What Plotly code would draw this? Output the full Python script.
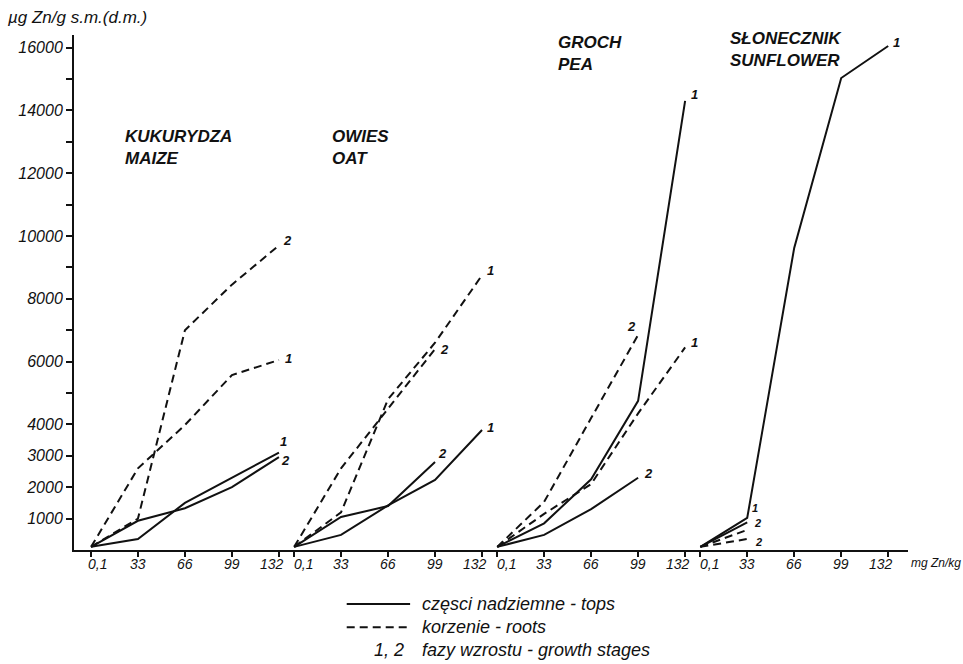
import plotly.graph_objects as go

# ---------------- data ----------------
doses = [0.1, 33, 66, 99, 132]
dose_labels = ["0,1", "33", "66", "99", "132"]
panels = ["KUKURYDZA<br>MAIZE", "OWIES<br>OAT", "GROCH<br>PEA", "SŁONECZNIK<br>SUNFLOWER"]

# µg Zn / g d.m. ; tops (solid) and roots (dashed), growth stages 1 and 2
maize_tops_1 = [100, 350, 1500, 2300, 3100]
maize_tops_2 = [100, 930, 1330, 2000, 2960]
maize_roots_1 = [100, 2600, 3980, 5570, 6050]
maize_roots_2 = [100, 1000, 7000, 8450, 9700]

oat_tops_1 = [100, 480, 1420, 2230, 3820]
oat_tops_2 = [100, 1050, 1400, 2800]
oat_roots_1 = [100, 1200, 4800, 6600, 8750]
oat_roots_2 = [100, 2600, 4500, 6400]

pea_tops_1 = [100, 850, 2250, 4750, 14300]
pea_tops_2 = [100, 480, 1300, 2300]
pea_roots_1 = [100, 1150, 2100, 4350, 6450]
pea_roots_2 = [100, 1530, 4200, 6850]

sun_tops_1 = [100, 1020, 9620, 15030, 16050]
sun_tops_2 = [100, 880]
sun_roots_1 = [100, 640]
sun_roots_2 = [100, 350]

y_tick_values = [1000, 2000, 3000, 4000, 5000, 6000, 7000, 8000, 9000, 10000,
                 11000, 12000, 13000, 14000, 15000, 16000]
y_tick_labels = ["1000", "2000", "3000", "4000", "", "6000", "", "8000", "", "10000",
                 "", "12000", "", "14000", "", "16000"]

# ---------------- styling / layout ----------------
PANEL_STEP = 142.6
FONT = "Liberation Sans"
BLACK = "#111111"

# (panel index, values, stage label, dashed?, label xshift, label yshift, label size)
series = [
    (0, maize_tops_1, "1", False, 5, 11, 13),
    (0, maize_tops_2, "2", False, 7, -3, 13),
    (0, maize_roots_1, "1", True, 10, 2, 13),
    (0, maize_roots_2, "2", True, 9, 5, 13),
    (1, oat_tops_1, "1", False, 8, 3, 13),
    (1, oat_tops_2, "2", False, 7, 9, 13),
    (1, oat_roots_1, "1", True, 8, 5, 13),
    (1, oat_roots_2, "2", True, 9, 0, 13),
    (2, pea_tops_1, "1", False, 9, 6, 13),
    (2, pea_tops_2, "2", False, 10, 4, 13),
    (2, pea_roots_1, "1", True, 9, 5, 13),
    (2, pea_roots_2, "2", True, -7, 8, 13),
    (3, sun_tops_1, "1", False, 8, 3, 13),
    (3, sun_tops_2, "2", False, 10, -1, 11),
    (3, sun_roots_1, None, True, 0, 0, 11),
    (3, sun_roots_2, "2", True, 11, -3, 11),
]

tick_font = dict(family=FONT, size=14, color=BLACK, style="italic")

fig = go.Figure()
annotations = []
for p, vals, lab, dashed, xs, ys, fs in series:
    xs_data = [d + p * PANEL_STEP for d in doses[:len(vals)]]
    fig.add_trace(go.Scatter(
        x=xs_data, y=vals, mode="lines",
        line=dict(color=BLACK, width=2, dash="8px,5px" if dashed else "solid"),
        showlegend=False, hoverinfo="skip"))
    if lab:
        annotations.append(dict(
            x=xs_data[-1], y=vals[-1], xref="x", yref="y", text=lab,
            showarrow=False, xshift=xs, yshift=ys,
            font=dict(family=FONT, size=fs, color=BLACK, style="italic", weight="bold")))

# extra stage label at the 33 mg point of the sunflower tops curve
annotations.append(dict(x=doses[1] + 3 * PANEL_STEP, y=sun_tops_1[1], xref="x", yref="y",
                        text="1", showarrow=False, xshift=8, yshift=10,
                        font=dict(family=FONT, size=11, color=BLACK, style="italic",
                                  weight="bold")))

# tick positions for every panel; labels drawn as annotations so that the
# adjacent "132" and "0,1" labels sit side by side like in the original
tickvals = []
for p in range(len(panels)):
    for i, (d, t) in enumerate(zip(doses, dose_labels)):
        xv = d + p * PANEL_STEP
        tickvals.append(xv)
        if i == 0:
            anchor, shift = "left", (-5 if p == 0 else -2)
        elif i == len(doses) - 1:
            anchor, shift = "right", 7
        else:
            anchor, shift = "center", 0
        annotations.append(dict(x=xv, y=0, xref="x", yref="paper", text=t,
                                xanchor=anchor, yanchor="top", xshift=shift, yshift=-4,
                                showarrow=False, font=tick_font))

# panel titles (paper coords)
title_pos = [(0.059, 0.825), (0.307, 0.825), (0.578, 1.008), (0.784, 1.016)]
for name, (px, py) in zip(panels, title_pos):
    annotations.append(dict(
        x=px, y=py, xref="paper", yref="paper", text=name, align="left",
        xanchor="left", yanchor="top", showarrow=False,
        font=dict(family=FONT, size=17, color=BLACK, style="italic", weight="bold")))

# axis titles
annotations.append(dict(
    x=-0.083, y=1.012, xref="paper", yref="paper", text="µg Zn/g s.m.(d.m.)",
    xanchor="left", yanchor="bottom", showarrow=False,
    font=dict(family=FONT, size=17, color=BLACK, style="italic")))
annotations.append(dict(
    x=1.0, y=0, xref="paper", yref="paper", text="mg Zn/kg",
    xanchor="left", yanchor="top", showarrow=False, yshift=-4, xshift=1,
    font=dict(family=FONT, size=12, color=BLACK, style="italic")))

# legend (drawn manually)
legend_rows = [
    ("solid", "częsci nadziemne - tops", -0.105),
    ("dash", "korzenie - roots", -0.150),
]
legend_font = dict(family=FONT, size=18, color=BLACK, style="italic")
shapes = []
for dash, txt, yy in legend_rows:
    shapes.append(dict(type="line", xref="paper", yref="paper",
                       x0=0.327, x1=0.403, y0=yy, y1=yy,
                       line=dict(color=BLACK, width=2,
                                 dash="8px,5px" if dash == "dash" else "solid")))
    annotations.append(dict(x=0.415, y=yy, xref="paper", yref="paper", text=txt,
                            xanchor="left", yanchor="middle", showarrow=False,
                            font=legend_font))
annotations.append(dict(x=0.398, y=-0.194, xref="paper", yref="paper", text="1, 2",
                        xanchor="right", yanchor="middle", showarrow=False,
                        font=legend_font))
annotations.append(dict(x=0.415, y=-0.194, xref="paper", yref="paper",
                        text="fazy wzrostu - growth stages",
                        xanchor="left", yanchor="middle", showarrow=False,
                        font=legend_font))

fig.update_layout(
    width=963, height=664,
    margin=dict(l=74, r=55, t=35, b=114),
    paper_bgcolor="white", plot_bgcolor="white",
    annotations=annotations, shapes=shapes,
    xaxis=dict(range=[-11.9, 573.7], tickvals=tickvals, showticklabels=False,
               showgrid=False, zeroline=False, showline=True, linecolor=BLACK,
               linewidth=2, ticks="outside", ticklen=5, tickwidth=1.5,
               tickcolor=BLACK),
    yaxis=dict(range=[0, 16400], tickvals=y_tick_values, ticktext=y_tick_labels,
               showgrid=False, zeroline=False, showline=True, linecolor=BLACK,
               linewidth=2, ticks="outside", ticklen=6, tickwidth=1.5,
               tickcolor=BLACK,
               tickfont=dict(family=FONT, size=16, color=BLACK, style="italic")),
)

fig.write_html("out.html")
